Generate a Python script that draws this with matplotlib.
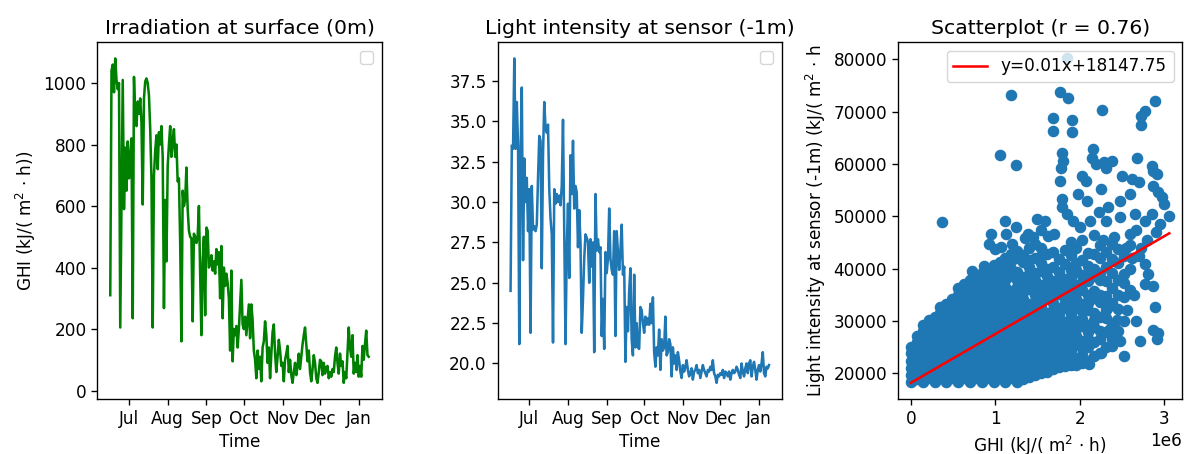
import matplotlib
matplotlib.use("Agg")
import matplotlib.pyplot as plt
import matplotlib.dates as mdates
import numpy as np
import pandas as pd

# daily values, 16 Jun -> 9 Jan
start_date = "2021-06-16"

ghi = [
    310, 1040, 1060, 970, 1080, 1010, 980, 1000, 205, 600,
    1010, 590, 790, 650, 810, 690, 760, 820, 235, 1020,
    880, 860, 940, 900, 950, 870, 605, 950, 1005, 1015,
    1000, 960, 850, 690, 205, 700, 780, 830, 720, 840,
    800, 860, 760, 268, 620, 420, 730, 800, 860, 760,
    810, 850, 760, 800, 680, 690, 480, 160, 650, 600,
    620, 725, 590, 520, 500, 495, 225, 510, 500, 480,
    500, 600, 380, 180, 420, 500, 245, 530, 520, 400,
    410, 440, 390, 420, 380, 460, 410, 450, 300, 470,
    235, 400, 340, 380, 350, 300, 130, 390, 95, 200,
    180, 210, 140, 200, 280, 360, 215, 200, 240, 180,
    230, 280, 170, 280, 230, 130, 100, 40, 130, 70,
    110, 30, 140, 160, 225, 180, 90, 140, 40, 120,
    190, 215, 120, 60, 110, 165, 130, 80, 90, 30,
    100, 120, 145, 60, 100, 50, 25, 60, 90, 50,
    80, 120, 70, 110, 150, 180, 205, 150, 95, 130,
    60, 30, 70, 115, 90, 40, 25, 60, 100, 95,
    50, 90, 55, 75, 80, 40, 60, 45, 70, 60,
    110, 140, 90, 55, 120, 80, 95, 25, 60, 40,
    120, 205, 140, 110, 180, 55, 90, 60, 115, 45,
    80, 45, 145, 100, 150, 195, 115, 110,
]

light = [
    24.5, 33.5, 33.3, 38.9, 33.3, 36.2, 33.5, 21.2, 33.0, 37.1,
    26.4, 32.7, 30.0, 31.5, 28.2, 30.8, 21.9, 31.0, 28.3, 28.5,
    28.2, 28.6, 31.5, 34.1, 33.8, 25.9, 33.0, 36.2, 34.6, 34.3,
    34.8, 30.8, 29.0, 28.0, 21.3, 30.8, 29.9, 30.5, 30.0, 30.4,
    29.8, 31.0, 35.1, 28.0, 21.2, 27.0, 29.9, 25.3, 32.9, 30.5,
    33.8, 29.6, 31.0, 30.6, 27.2, 29.5, 27.5, 21.9, 24.0, 26.5,
    28.0, 27.8, 27.5, 25.0, 27.7, 26.0, 27.5, 20.7, 30.5, 27.0,
    27.7, 26.9, 27.2, 21.7, 24.0, 20.9, 26.9, 25.6, 26.5, 29.6,
    26.5, 25.8, 25.5, 28.2, 21.7, 28.2, 26.9, 25.8, 27.0, 28.6,
    25.5, 26.0, 20.1, 23.5, 22.0, 24.5, 25.9, 21.5, 20.5, 25.5,
    21.0, 22.5, 21.0, 20.9, 23.5, 23.3, 22.5, 21.9, 22.9, 22.4,
    22.8, 22.4, 23.7, 22.5, 24.1, 20.7, 19.8, 21.0, 20.5, 22.1,
    19.6, 21.5, 20.8, 21.0, 22.9, 20.5, 20.7, 21.5, 21.2, 19.2,
    21.0, 20.0, 20.5, 19.6, 20.7, 20.2, 19.5, 19.1, 19.9, 19.5,
    19.8, 20.2, 19.6, 19.2, 19.4, 19.7, 19.0, 19.5, 19.6, 19.9,
    19.4, 19.6, 19.1, 19.5, 19.9, 19.6, 19.4, 19.2, 19.6, 19.5,
    19.8, 19.6, 20.2, 19.4, 19.2, 18.8, 19.3, 19.2, 19.4, 19.3,
    19.6, 19.1, 19.5, 19.4, 19.2, 19.5, 19.0, 19.4, 19.6, 19.4,
    19.5, 19.8, 19.6, 19.3, 19.1, 20.0, 19.5, 19.2, 19.7, 20.0,
    19.4, 20.0, 20.2, 19.2, 19.8, 20.1, 19.6, 19.0, 19.6, 19.9,
    19.5, 20.0, 20.7, 19.4, 19.2, 19.8, 19.7, 19.9,
]

# scatter: dense core, GHI in units of 1e6 per column, light values listed per column
core_ghi = [0.00, 0.07, 0.14, 0.21, 0.28, 0.35, 0.42, 0.49, 0.56, 0.63,
            0.70, 0.77, 0.84, 0.91, 0.98, 1.05, 1.12, 1.19, 1.26, 1.33,
            1.40, 1.47, 1.54, 1.61, 1.68, 1.75, 1.82, 1.89, 1.96, 2.03,
            2.10, 2.17, 2.24, 2.31, 2.38, 2.45, 2.52, 2.59]
core_light = [
    [18300, 19600, 21000, 22400, 23800, 25100],
    [18900, 20300, 21700, 23100, 24500, 25900, 27200],
    [18300, 19700, 21100, 22500, 23900, 25300, 26700, 28000, 29200],
    [19000, 20400, 21800, 23200, 24600, 26000, 27400, 28800, 30100],
    [18300, 19700, 21100, 22500, 23900, 25300, 26700, 28100, 29500, 30800],
    [19000, 20400, 21800, 23200, 24600, 26000, 27400, 28800, 30200, 31500, 32600],
    [18300, 19700, 21100, 22500, 23900, 25300, 26700, 28100, 29500, 30900, 32200, 33200],
    [19000, 20400, 21800, 23200, 24600, 26000, 27400, 28800, 30200, 31600, 33000, 34200],
    [18300, 19700, 21100, 22500, 23900, 25300, 26700, 28100, 29500, 30900, 32300, 33700, 35000, 36200],
    [19000, 20400, 21800, 23200, 24600, 26000, 27400, 28800, 30200, 31600, 33000, 34400, 35800, 37100],
    [18300, 19700, 21100, 22500, 23900, 25300, 26700, 28100, 29500, 30900, 32300, 33700, 35100, 36500, 37900],
    [19000, 20400, 21800, 23200, 24600, 26000, 27400, 28800, 30200, 31600, 33000, 34400, 35800, 37200, 38500],
    [18300, 19700, 21100, 22500, 23900, 25300, 26700, 28100, 29500, 30900, 32300, 33700, 35100, 36500, 37900, 39100],
    [19000, 20400, 21800, 23200, 24600, 26000, 27400, 28800, 30200, 31600, 33000, 34400, 35800, 37200, 38600, 39900],
    [18300, 19700, 21100, 22500, 23900, 25300, 26700, 28100, 29500, 30900, 32300, 33700, 35100, 36500, 37900, 39300, 40600],
    [19000, 20400, 21800, 23200, 24600, 26000, 27400, 28800, 30200, 31600, 33000, 34400, 35800, 37200, 38600, 40000, 41300],
    [18300, 19700, 21100, 22500, 23900, 25300, 26700, 28100, 29500, 30900, 32300, 33700, 35100, 36500, 37900, 39300, 40700, 42000],
    [19000, 20400, 21800, 23200, 24600, 26000, 27400, 28800, 30200, 31600, 33000, 34400, 35800, 38600, 40000, 41400, 42700],
    [18300, 19700, 21100, 22500, 23900, 25300, 26700, 28100, 29500, 30900, 32300, 33700, 35100, 36500, 37900, 39300, 42100, 43400],
    [18800, 20200, 21600, 23000, 24400, 25800, 27200, 28600, 30000, 31400, 32800, 34200, 35600, 37000, 38400, 41200, 42600],
    [19300, 20700, 22100, 23500, 24900, 26300, 27700, 29100, 30500, 31900, 33300, 36100, 37500, 38900, 40300, 41700, 43900],
    [19600, 21000, 22400, 23800, 25200, 26600, 28000, 29400, 30800, 32200, 33600, 35000, 36400, 37800, 39200, 42000, 44800],
    [20000, 21400, 22800, 24200, 25600, 27000, 28400, 29800, 31200, 32600, 34000, 35400, 36800, 39600, 41000, 42400, 44000],
    [20300, 21700, 23100, 24500, 25900, 27300, 28700, 30100, 31500, 34300, 35700, 37100, 38500, 39900, 42700],
    [20800, 22200, 23600, 25000, 26400, 27800, 29200, 30600, 32000, 33400, 34800, 36200, 37600, 40400, 43200],
    [21200, 22600, 24000, 25400, 26800, 28200, 29600, 31000, 32400, 35200, 36600, 38000, 39400, 41800],
    [21300, 22700, 24100, 25500, 26900, 28300, 29700, 32500, 33900, 35300, 36700, 38100, 40900, 43600],
    [21600, 23000, 24400, 27200, 28600, 30000, 31400, 32800, 34200, 37000, 38400, 39800, 42600, 45000],
    [21500, 22900, 25700, 27100, 28500, 29900, 32700, 34100, 35500, 36900, 39700, 41100, 44000],
    [22000, 23400, 24800, 26200, 29000, 30400, 31800, 33200, 36000, 37400, 38800, 41600, 45500],
    [22300, 25100, 26500, 27900, 29300, 32100, 33500, 34900, 37700, 39100, 40500, 43000],
    [23200, 26000, 28800, 30200, 31600, 34400, 35800, 38600, 40000, 42800, 46500],
    [23800, 26600, 28000, 30800, 33600, 35000, 37800, 39200, 42000, 44500],
    [25000, 27800, 30600, 32000, 34800, 37600, 40400, 43200],
    [26500, 29300, 33500, 36300, 39100, 41900, 44700],
    [28000, 32200, 35000, 37800, 41000, 43800],
    [30000, 34500, 39000, 42500],
    [36000, 40000, 44500],
]

# scattered points outside the core (GHI in 1e6, light)
outer_ghi = [
    0.37, 1.85, 1.18, 1.77, 1.86, 2.26, 2.89, 2.77, 2.73, 2.72,
    1.68, 1.91, 1.68, 1.91, 1.06, 1.24, 1.79, 1.80, 1.78, 1.77,
    2.16, 2.14, 2.19, 2.29, 2.38, 2.31, 2.68, 2.85, 2.87, 2.91,
    2.03, 2.07, 1.98, 2.08, 2.25, 2.50, 2.62, 2.70, 2.87, 2.93,
    2.97, 3.06, 3.00, 2.60, 2.48, 2.33, 2.23, 1.79, 1.79, 1.85,
    1.12, 1.49, 1.59, 0.95, 0.93, 1.00, 1.13, 1.25, 1.39, 1.54,
    1.70, 1.92, 2.00, 2.12, 2.31, 2.48, 2.65, 2.77, 2.67, 2.60,
    2.40, 2.28, 2.77, 2.81, 2.77, 2.87, 2.89, 2.64, 2.52, 2.56,
    2.66, 2.71, 2.87, 2.91, 2.93, 2.52, 2.48, 2.34, 2.38, 2.11,
    2.03, 2.25, 2.44, 2.33, 2.22, 2.72, 2.80, 2.90, 2.95, 2.85,
    2.55, 2.62, 2.70, 1.45, 1.62, 1.35, 1.20, 1.07, 0.86, 0.72,
]
outer_light = [
    48900, 80200, 73250, 73870, 72600, 70400, 71970, 70080, 69100, 67550,
    68800, 68500, 66300, 66150, 61700, 59800, 62150, 60600, 59300, 56800,
    62800, 61200, 59950, 60300, 60600, 59300, 61200, 59650, 58700, 58050,
    57750, 56800, 54250, 53000, 55200, 57750, 57100, 56500, 55850, 54600,
    53650, 50150, 52400, 54250, 53000, 51750, 50800, 53300, 51750, 50500,
    49200, 49500, 49200, 46700, 44800, 43800, 46700, 47950, 46700, 47300,
    46700, 49200, 47950, 49200, 49200, 49850, 50450, 49200, 47300, 46700,
    46050, 45400, 40850, 38950, 37100, 36750, 32750, 35000, 37200, 32150,
    29900, 26100, 28350, 26450, 27700, 23250, 26100, 28350, 25150, 21700,
    22650, 23900, 30250, 32750, 34650, 44000, 45500, 47000, 48500, 50500,
    44000, 42000, 42500, 46000, 46300, 45800, 44800, 44200, 40500, 39500,
]

fit_slope = 0.00935
fit_intercept = 18147.75

# the reference was rendered about 1.22x the default sizes
k = 1.22
plt.rcParams.update({
    "font.size": 10 * k,
    "axes.titlesize": 12 * k,
    "lines.linewidth": 1.5 * k,
    "lines.markersize": 6 * k,
    "axes.linewidth": 0.8 * k,
    "xtick.major.size": 3.5 * k,
    "ytick.major.size": 3.5 * k,
    "xtick.major.width": 0.8 * k,
    "ytick.major.width": 0.8 * k,
})

dates = pd.date_range(start_date, periods=len(ghi), freq="D")

sc_x = []
sc_y = []
for gx, col in zip(core_ghi, core_light):
    for v in col:
        sc_x.append(gx * 1e6)
        sc_y.append(v)
sc_x += [g * 1e6 for g in outer_ghi]
sc_y += outer_light
sc_x = np.array(sc_x)
sc_y = np.array(sc_y)

unit = r"m$^2$ $\cdot$ h"

fig, axes = plt.subplots(1, 3, figsize=(11.87, 4.54), dpi=100)
fig.subplots_adjust(left=0.082, right=0.996, bottom=0.121, top=0.907, wspace=0.408)

# irradiation at surface
ax = axes[0]
ax.plot(dates, ghi, color="green")
ax.set_title("Irradiation at surface (0m)")
ax.set_xlabel("Time")
ax.set_ylabel("GHI (kJ/( " + unit + "))")
ax.xaxis.set_major_locator(mdates.MonthLocator())
ax.xaxis.set_major_formatter(mdates.DateFormatter("%b"))
ax.legend(handles=[], loc="upper right")

# light at sensor
ax = axes[1]
ax.plot(dates, light, color="tab:blue")
ax.set_title("Light intensity at sensor (-1m)")
ax.set_xlabel("Time")
ax.xaxis.set_major_locator(mdates.MonthLocator())
ax.xaxis.set_major_formatter(mdates.DateFormatter("%b"))
ax.legend(handles=[], loc="upper right")

# scatter
ax = axes[2]
ax.scatter(sc_x, sc_y, color="tab:blue")
xfit = np.array([sc_x.min(), sc_x.max()])
ax.plot(xfit, fit_slope * xfit + fit_intercept, color="red",
        label="y=0.01x+18147.75")
ax.set_title("Scatterplot (r = 0.76)")
ax.set_xlabel("GHI (kJ/( " + unit + ")")
ax.set_ylabel("Light intensity at sensor (-1m) (kJ/( " + unit)
ax.legend(loc="upper right")

fig.savefig("out.png", dpi=100)
